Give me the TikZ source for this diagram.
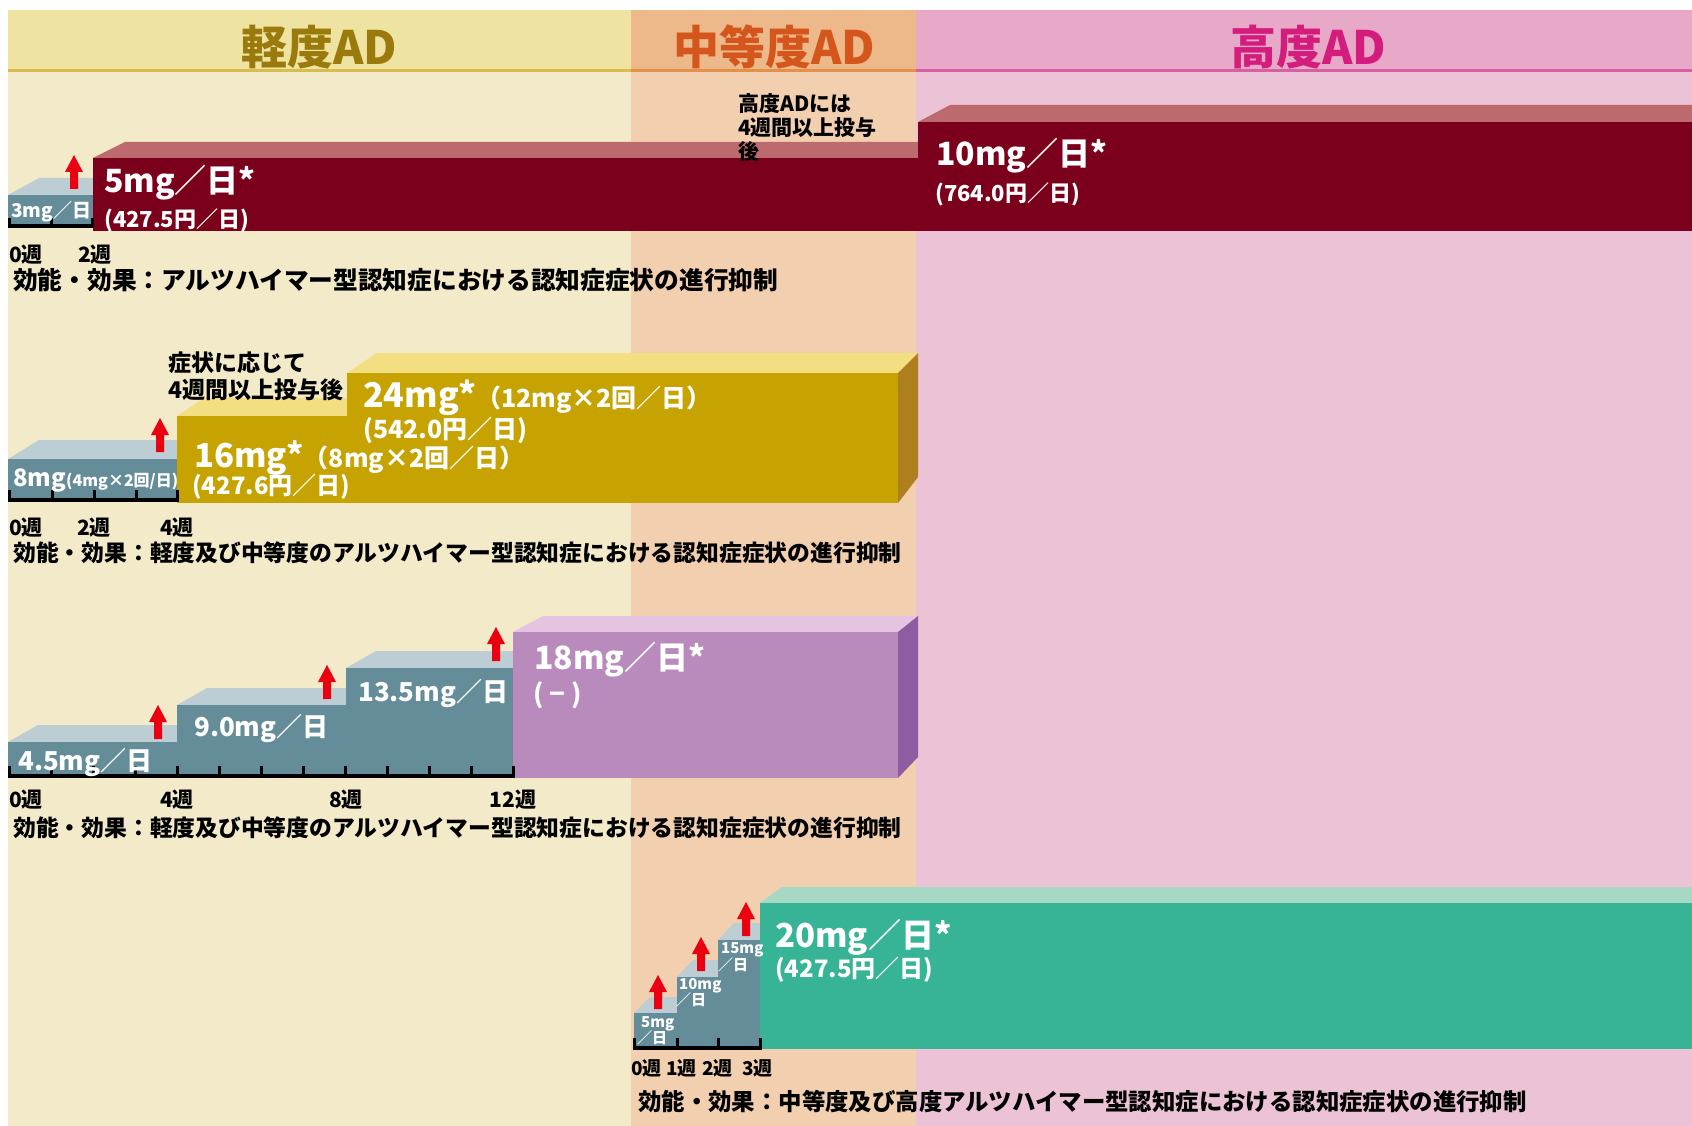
\documentclass[tikz,border=0pt]{standalone}
\usepackage{fontspec}
\setmainfont{Noto Sans CJK JP}
\definecolor{hdrY}{HTML}{EEE3A0}
\definecolor{bodyY}{HTML}{F2EAC8}
\definecolor{hdrO}{HTML}{EDB98A}
\definecolor{bodyO}{HTML}{F1CFAF}
\definecolor{hdrP}{HTML}{E8A9C8}
\definecolor{bodyP}{HTML}{EBC2D6}
\definecolor{lineY}{HTML}{D8BC50}
\definecolor{lineO}{HTML}{E2904A}
\definecolor{lineP}{HTML}{D660A2}
\definecolor{txtY}{HTML}{9A7A0C}
\definecolor{txtO}{HTML}{D4561C}
\definecolor{txtP}{HTML}{D41C7C}
\definecolor{grayF}{HTML}{658D99}
\definecolor{grayT}{HTML}{BDCDD4}
\definecolor{maroonF}{HTML}{7A001C}
\definecolor{maroonT}{HTML}{BC6A6E}
\definecolor{goldF}{HTML}{C6A300}
\definecolor{goldT}{HTML}{F3DE82}
\definecolor{goldR}{HTML}{AE7F1E}
\definecolor{purpF}{HTML}{B98BBD}
\definecolor{purpT}{HTML}{E4C4E0}
\definecolor{purpR}{HTML}{8E5CA0}
\definecolor{greenF}{HTML}{37B495}
\definecolor{greenT}{HTML}{A6D8C4}
\definecolor{arrRed}{HTML}{EA0010}
\newcommand\fsz[1]{\fontsize{#1}{#1}\selectfont}
% x1 x2 ytop ybot dx dy front top
\newcommand\drawblock[8]{%
  \fill[#8] (#1,#3) -- ({#1+#5},{#3-#6}) -- ({#2+#5},{#3-#6}) -- (#2,#3) -- cycle;
  \fill[#7] (#1,#3) rectangle (#2,#4);}
\tikzset{
  lbl/.style={inner sep=0pt, anchor=west},
  wlbl/.style={lbl, text=white},
  hdr/.style={inner sep=0pt, anchor=center, font=\bfseries\fsz{46}},
  eff/.style={lbl, text=black},
  wk/.style={inner sep=0pt, text=black, font=\bfseries\fsz{21}},
  axisline/.style={line width=4pt, black},
  axtick/.style={line width=3pt, black},
  uparr/.pic={\fill[arrRed] (-4,34) -- (-4,17) -- (-9,17) -- (0,0) -- (9,17) -- (4,17) -- (4,34) -- cycle;},
}
\begin{document}
\begin{tikzpicture}[x=1pt,y=-1pt]
\useasboundingbox (0,0) rectangle (1692,1126);
\fill[white] (0,0) rectangle (1692,1126);
% ---------- background columns
\fill[bodyY] (8,71) rectangle (631,1126);
\fill[bodyO] (631,71) rectangle (916,1126);
\fill[bodyP] (916,71) rectangle (1692,1126);
\fill[hdrY] (8,10) rectangle (631,71);
\fill[hdrO] (631,10) rectangle (916,71);
\fill[hdrP] (916,10) rectangle (1692,71);
\draw[lineY, line width=3pt] (8,71) -- (631,71);
\draw[lineO, line width=3pt] (631,71) -- (916,71);
\draw[lineP, line width=3pt] (916,71) -- (1692,71);
\node[hdr, text=txtY] (h1) at (319,47) {軽度AD};
\node[hdr, text=txtO] (h2) at (774,47) {中等度AD};
\node[hdr, text=txtP] (h3) at (1308,47) {高度AD};

% ---------- row 1
\drawblock{8}{93}{195}{226}{31}{17}{grayF}{grayT}
\drawblock{93}{950}{158}{231}{32}{16}{maroonF}{maroonT}
\drawblock{918}{1692}{122}{231}{32}{17}{maroonF}{maroonT}
\draw[axisline] (8,226) -- (94,226);
\foreach \x in {9.5,51,92.5} \draw[axtick] (\x,226) -- (\x,218);
\pic at (74,155) {uparr};
\node[wlbl, font=\bfseries\fsz{19}] (r1a) at (11,212) {3mg／日};
\node[wlbl, font=\bfseries\fsz{32}] (r1b) at (104,183) {5mg／日*};
\node[wlbl, font=\bfseries\fsz{22}] (r1c) at (104,220) {(427.5円／日)};
\node[wlbl, font=\bfseries\fsz{32}] (r1d) at (936,156) {10mg／日*};
\node[wlbl, font=\bfseries\fsz{22}] (r1e) at (935,194) {(764.0円／日)};
\node[lbl, font=\bfseries\fsz{21}] (n1a) at (738,104) {高度ADには};
\node[lbl, font=\bfseries\fsz{21}] (n1b) at (738,128) {4週間以上投与};
\node[lbl, font=\bfseries\fsz{21}] (n1c) at (738,152) {後};
\node[wk, anchor=west] (w1a) at (9,255) {0週};
\node[wk] (w1b) at (95,255) {2週};
\node[eff, font=\bfseries\fsz{24.7}] (e1) at (13,280) {効能・効果：アルツハイマー型認知症における認知症症状の進行抑制};

% ---------- row 2
\drawblock{8}{177}{459}{498}{31}{19}{grayF}{grayT}
\drawblock{177}{400}{416}{503}{27}{18}{goldF}{goldT}
\fill[goldT] (347,373) -- (377,353) -- (918,353) -- (898,373) -- cycle;
\fill[goldF] (347,373) rectangle (898,503);
\fill[goldR] (898,373) -- (918,353) -- (918,477) -- (898,503) -- cycle;
\draw[axisline] (8,500) -- (179,500);
\foreach \x in {9.5,52,94,136,177.5} \draw[axtick] (\x,500) -- (\x,490);
\pic at (160,418) {uparr};
\node[wlbl] (r2a) at (13,480) {{\bfseries\fsz{24}8mg}{\bfseries\fsz{16}(4mg×2回/日)}};
\node[wlbl] (r2b) at (194,458) {{\bfseries\fsz{33}16mg*}{\bfseries\fsz{25}（8mg×2回／日）}};
\node[wlbl, font=\bfseries\fsz{24}] (r2c) at (192,487) {(427.6円／日)};
\node[wlbl] (r2d) at (363,398) {{\bfseries\fsz{34}24mg*}{\bfseries\fsz{25}（12mg×2回／日）}};
\node[wlbl, font=\bfseries\fsz{25}] (r2e) at (363,430) {(542.0円／日)};
\node[lbl, font=\bfseries\fsz{23}] (n2a) at (168,363) {症状に応じて};
\node[lbl, font=\bfseries\fsz{23}] (n2b) at (168,390) {4週間以上投与後};
\node[wk, anchor=west] (w2a) at (9,528) {0週};
\node[wk] (w2b) at (94,528) {2週};
\node[wk] (w2c) at (177,528) {4週};
\node[eff, font=\bfseries\fsz{22.8}] (e2) at (13,553) {効能・効果：軽度及び中等度のアルツハイマー型認知症における認知症症状の進行抑制};

% ---------- row 3
\drawblock{8}{177}{742}{775}{30}{17}{grayF}{grayT}
\drawblock{177}{346}{705}{775}{30}{17}{grayF}{grayT}
\drawblock{346}{513}{668}{775}{30}{17}{grayF}{grayT}
\fill[purpT] (513,632) -- (543,616) -- (918,616) -- (898,632) -- cycle;
\fill[purpF] (513,632) rectangle (898,778);
\fill[purpR] (898,632) -- (918,616) -- (918,757) -- (898,778) -- cycle;
\draw[axisline] (8,776) -- (515,776);
\foreach \k in {0,...,12} \draw[axtick] ({9.5+42*\k},776) -- ({9.5+42*\k},766);
\pic at (158,705) {uparr};
\pic at (327,665) {uparr};
\pic at (496,627) {uparr};
\node[wlbl, font=\bfseries\fsz{26}] (r3a) at (18,762) {4.5mg／日};
\node[wlbl, font=\bfseries\fsz{26}] (r3b) at (194,728) {9.0mg／日};
\node[wlbl, font=\bfseries\fsz{26}] (r3c) at (358,693) {13.5mg／日};
\node[wlbl, font=\bfseries\fsz{32}] (r3d) at (534,660) {18mg／日*};
\node[wlbl, font=\bfseries\fsz{26}] (r3e) at (533,695) {( − )};
\node[wk, anchor=west] (w3a) at (9,800) {0週};
\node[wk] (w3b) at (177,800) {4週};
\node[wk] (w3c) at (346,800) {8週};
\node[wk] (w3d) at (513,800) {12週};
\node[eff, font=\bfseries\fsz{22.8}] (e3) at (13,828) {効能・効果：軽度及び中等度のアルツハイマー型認知症における認知症症状の進行抑制};

% ---------- row 4
\drawblock{634}{677}{1013}{1046}{16}{16}{grayF}{grayT}
\drawblock{677}{718}{977}{1046}{16}{17}{grayF}{grayT}
\drawblock{718}{760}{940}{1046}{16}{17}{grayF}{grayT}
\drawblock{760}{1692}{903}{1049}{22}{16}{greenF}{greenT}
\draw[axisline] (633,1048) -- (762,1048);
\foreach \x in {634.5,677,718,760.5} \draw[axtick] (\x,1048) -- (\x,1038);
\pic at (658,975) {uparr};
\pic at (701,937) {uparr};
\pic at (746,902) {uparr};
\node[wlbl, font=\bfseries\fsz{15}] (r4a) at (641,1024) {5mg};
\node[wlbl, font=\bfseries\fsz{15}] (r4b) at (637,1038) {／日};
\node[wlbl, font=\bfseries\fsz{15}] (r4c) at (679,986) {10mg};
\node[wlbl, font=\bfseries\fsz{15}] (r4d) at (676,1000) {／日};
\node[wlbl, font=\bfseries\fsz{15}] (r4e) at (721,950) {15mg};
\node[wlbl, font=\bfseries\fsz{15}] (r4f) at (718,965) {／日};
\node[wlbl, font=\bfseries\fsz{33}] (r4g) at (775,937) {20mg／日*};
\node[wlbl, font=\bfseries\fsz{24}] (r4h) at (775,970) {(427.5円／日)};
\node[wk, anchor=west, font=\bfseries\fsz{19}] (w4a) at (631,1068) {0週};
\node[wk, anchor=west, font=\bfseries\fsz{19}] (w4b) at (666,1068) {1週};
\node[wk, anchor=west, font=\bfseries\fsz{19}] (w4c) at (702,1068) {2週};
\node[wk, anchor=west, font=\bfseries\fsz{19}] (w4d) at (742,1068) {3週};
\node[eff, font=\bfseries\fsz{23.4}] (e4) at (638,1102) {効能・効果：中等度及び高度アルツハイマー型認知症における認知症症状の進行抑制};
\end{tikzpicture}
\end{document}
